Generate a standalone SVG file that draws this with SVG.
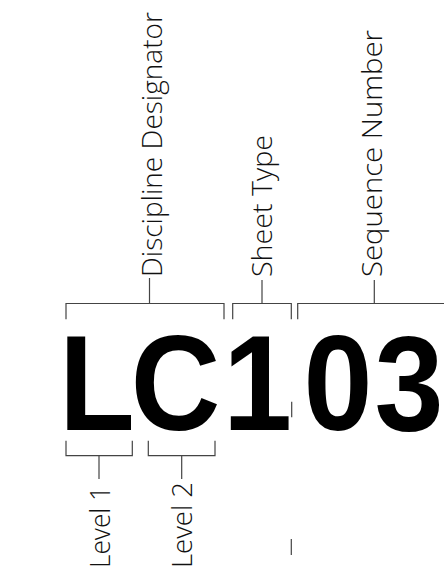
<svg xmlns="http://www.w3.org/2000/svg" width="444" height="577" viewBox="0 0 444 577">
<style>
.lbl{font-family:"Open Sans","Liberation Sans",sans-serif;font-weight:300;font-size:28px;fill:#111}
.big{font-family:"Liberation Sans",Arial,sans-serif;font-weight:bold;font-size:135px;fill:#000;text-anchor:middle}
.ln{fill:none;stroke:#444;stroke-width:1.2}
</style>
<rect width="444" height="577" fill="#fff"/>
<g id="code"><text class="big" transform="scale(0.92,1)" x="105.4 190.8 279.9 367.4 444.5" y="430">LC103</text></g>
<g id="discipline"><text class="lbl" transform="translate(161.5,277) rotate(-90)" textLength="265" lengthAdjust="spacingAndGlyphs">Discipline Designator</text></g>
<g id="sheettype"><text class="lbl" transform="translate(271.5,277) rotate(-90)" textLength="142" lengthAdjust="spacingAndGlyphs">Sheet Type</text></g>
<g id="sequence"><text class="lbl" transform="translate(381.5,277) rotate(-90)" textLength="247" lengthAdjust="spacingAndGlyphs">Sequence Number</text></g>
<g id="level1"><text class="lbl" transform="translate(110,568) rotate(-90)" textLength="82" lengthAdjust="spacingAndGlyphs">Level 1</text></g>
<g id="level2"><text class="lbl" transform="translate(191.5,568) rotate(-90)" textLength="86" lengthAdjust="spacingAndGlyphs">Level 2</text></g>
<g id="connectors" class="ln">
<path d="M66,319.3 V303.5 H224 V319.3 M149.5,303.5 V278"/>
<path d="M232.7,319.3 V303.5 H291.3 V319.3 M262,303.5 V280"/>
<path d="M297.7,319.3 V303.5 H444 M374.3,303.5 V280"/>
<path d="M66,440.7 V455.7 H132.3 V440.7 M99,455.7 V479"/>
<path d="M148.3,440.7 V455.7 H215 V440.7 M181.7,455.7 V479"/>
<path d="M291.7,401.7 V417.3 M291.3,539 V555"/>
</g>
</svg>
